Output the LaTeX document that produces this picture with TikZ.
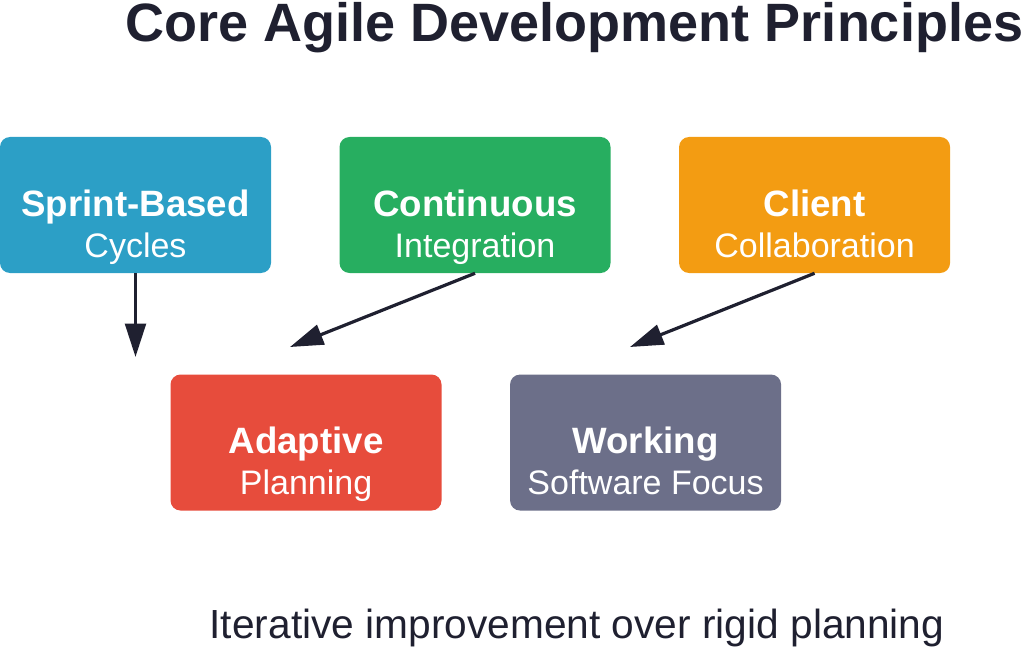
\documentclass[tikz,border=0pt]{standalone}
\usepackage{fontspec}
\setmainfont{Liberation Sans}
\usetikzlibrary{arrows.meta,positioning,calc}
\definecolor{ink}{HTML}{1F2030}
\definecolor{cblue}{HTML}{2C9FC6}
\definecolor{cgreen}{HTML}{27AE60}
\definecolor{corange}{HTML}{F39C12}
\definecolor{cred}{HTML}{E74C3C}
\definecolor{cgray}{HTML}{6C6F89}
\tikzset{
    card/.style =   {rectangle,
                    rounded corners=7.5pt,
                    draw=none,
                    minimum width=203.25pt,
                    minimum height=102pt,
                    inner sep=0pt},
    head/.style =   {anchor=base,
                    text=white,
                    inner sep=0pt,
                    font=\fontsize{27.5}{30}\selectfont\bfseries},
    sub/.style =    {anchor=base,
                    text=white,
                    inner sep=0pt,
                    font=\fontsize{25.5}{28}\selectfont},
    flow/.style =   {draw=ink,
                    line width=2.4pt,
                    -{Triangle[length=25pt,width=15.5pt]}},
    -,
    node distance=51pt}

\begin{document}
\begin{tikzpicture}[x=0.75pt,y=-0.75pt]
                \useasboundingbox (0,0) rectangle (1024,649);
                \node[anchor=base,text=ink,inner sep=0pt,font=\fontsize{40.5}{44}\selectfont\bfseries]
                    (title) at (574.5,42) {Core Agile Development Principles};
                % top row
                \node[card,fill=cblue]   (sb) at (135.5,205)    {};
                \node[card,fill=cgreen]  (ci) [right=of sb]     {};
                \node[card,fill=corange] (cc) [right=of ci]     {};
                % bottom row
                \node[card,fill=cred]    (ap) [below right=75.75pt and -75.75pt of sb] {};
                \node[card,fill=cgray]   (ws) [right=of ap]     {};
                \node[head] (sbh) at ([yshift=-8.25pt]sb.center) {Sprint-Based};
                \node[sub]  (sbs) at ([yshift=-39pt]sb.center)   {Cycles};
                \node[head] (cih) at ([yshift=-8.25pt]ci.center) {Continuous};
                \node[sub]  (cis) at ([yshift=-39pt]ci.center)   {Integration};
                \node[head] (cch) at ([yshift=-8.25pt]cc.center) {Client};
                \node[sub]  (ccs) at ([yshift=-39pt]cc.center)   {Collaboration};
                \node[head] (aph) at ([yshift=-8.25pt]ap.center) {Adaptive};
                \node[sub]  (aps) at ([yshift=-39pt]ap.center)   {Planning};
                \node[head] (wsh) at ([yshift=-8.25pt]ws.center) {Working};
                \node[sub]  (wss) at ([yshift=-39pt]ws.center)   {Software Focus};
                \node[anchor=base,text=ink,inner sep=0pt,font=\fontsize{30.5}{33}\selectfont]
                    (note) at (577,638) {Iterative improvement over rigid planning};
                % loose arrow ends
                \coordinate (sbend) at (135.5,357);
                \coordinate (ciend) at (290,347);
                \coordinate (ccend) at (630,347);
                \path   (sb.south) edge [flow] (sbend)
                        (ci.south) edge [flow] (ciend)
                        (cc.south) edge [flow] (ccend);
        \end{tikzpicture}
\end{document}
